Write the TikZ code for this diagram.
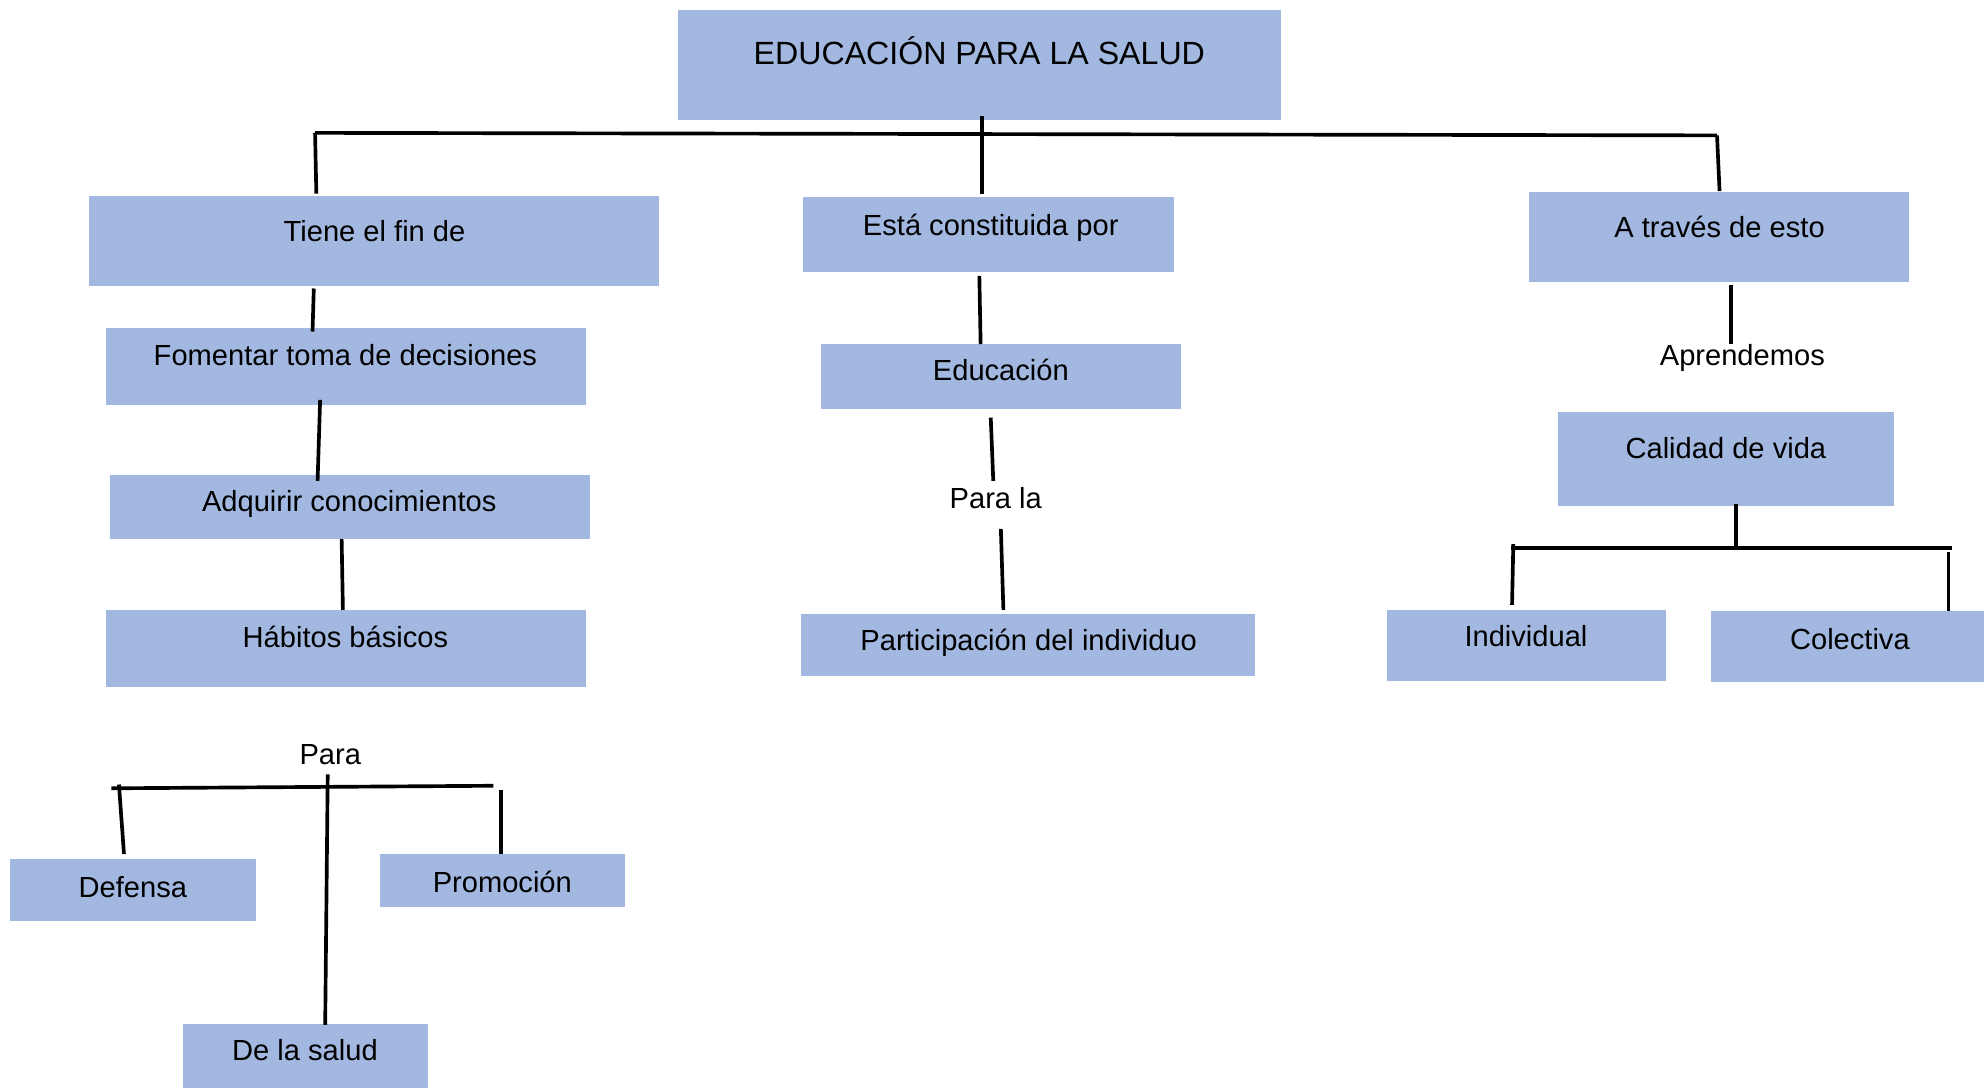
\documentclass[tikz,border=0pt]{standalone}
\usepackage{fontspec}
\setmainfont{Liberation Sans}
\definecolor{boxblue}{RGB}{162,184,224}
\begin{document}
\begin{tikzpicture}[x=1pt,y=-1pt,
  bx/.style={fill=boxblue,draw=none,inner sep=0pt,outer sep=0pt},
  txt/.style={font=\fontsize{23}{27}\selectfont,inner sep=0pt,outer sep=0pt,anchor=base,text height=17pt,text depth=5pt},
  ttl/.style={font=\fontsize{25.4}{29}\selectfont,inner sep=0pt,outer sep=0pt,anchor=base},
  ln/.style={draw=black,line width=2.9pt}]
\useasboundingbox (0,0) rectangle (1568,860);
% boxes
\node[bx,minimum width=476pt,minimum height=87pt] (title) at (774,51.5) {};
\node[bx,minimum width=451pt,minimum height=71pt] (tiene) at (295.5,190.5) {};
\node[bx,minimum width=293pt,minimum height=59pt] (esta) at (781.5,185.5) {};
\node[bx,minimum width=301pt,minimum height=71pt] (traves) at (1358.5,187.5) {};
\node[bx,minimum width=379pt,minimum height=61pt] (fom) at (273.5,289.5) {};
\node[bx,minimum width=379pt,minimum height=51pt] (adq) at (276.5,400.5) {};
\node[bx,minimum width=379pt,minimum height=61pt] (hab) at (273.5,512.5) {};
\node[bx,minimum width=284pt,minimum height=51pt] (edu) at (791,297.5) {};
\node[bx,minimum width=359pt,minimum height=49pt] (part) at (812.5,509.5) {};
\node[bx,minimum width=266pt,minimum height=74pt] (cal) at (1364,363) {};
\node[bx,minimum width=221pt,minimum height=56pt] (ind) at (1206.5,510) {};
\node[bx,minimum width=216pt,minimum height=56pt] (col) at (1460,511) {};
\node[bx,minimum width=194pt,minimum height=49pt] (def) at (105,703.5) {};
\node[bx,minimum width=194pt,minimum height=42pt] (pro) at (397,696) {};
\node[bx,minimum width=193pt,minimum height=51pt] (sal) at (241.5,834.5) {};
% texts
\node[ttl] (titleT) at (774,51) {EDUCACIÓN PARA LA SALUD};
\node[txt] (tieneT) at (296,191) {Tiene el fin de};
\node[txt] (estaT) at (783,186) {Está constituida por};
\node[txt] (travesT) at (1359,188) {A través de esto};
\node[txt] (fomT) at (273,289) {Fomentar toma de decisiones};
\node[txt] (adqT) at (276,404) {Adquirir conocimientos};
\node[txt] (habT) at (273,512) {Hábitos básicos};
\node[txt] (eduT) at (791,301) {Educación};
\node[txt] (partT) at (813,514) {Participación del individuo};
\node[txt] (calT) at (1364,362) {Calidad de vida};
\node[txt] (indT) at (1206,511) {Individual};
\node[txt] (colT) at (1462,513) {Colectiva};
\node[txt] (defT) at (105,709) {Defensa};
\node[txt] (proT) at (397,705) {Promoción};
\node[txt] (salT) at (241,838) {De la salud};
\node[txt] (aprT) at (1377,289) {Aprendemos};
\node[txt] (paralaT) at (787,402) {Para la};
\node[txt] (paraT) at (261,604) {Para};
% junction coordinates
\coordinate (hl) at (249,105);
\coordinate (hr) at (1357,107);
\coordinate (rj) at (1372,433);
\coordinate (rl) at (1194,433);
\coordinate (rr) at (1543,433);
\coordinate (pl) at (88,623);
\coordinate (pr) at (390,621);
% connectors
\draw[ln] ([xshift=2pt,yshift=3pt]title.south) -- ([xshift=-5.5pt,yshift=3pt]esta.north);
\draw[ln] (hl) -- (hr);
\draw[ln] (hl) -- ([xshift=-45.5pt,yshift=2pt]tiene.north);
\draw[ln] (hr) -- ([xshift=0.5pt,yshift=1pt]traves.north);
\draw[ln] ([xshift=-47.5pt,yshift=-2pt]tiene.south) -- ([xshift=-26.5pt,yshift=-3pt]fom.north);
\draw[ln] ([xshift=-20.5pt,yshift=4pt]fom.south) -- ([xshift=-25.5pt,yshift=-5pt]adq.north);
\draw[ln] ([xshift=-6.5pt]adq.south) -- ([xshift=-2.5pt]hab.north);
\draw[ln] ([xshift=-7.5pt,yshift=-3pt]esta.south) -- ([xshift=-16pt]edu.north);
\draw[ln] ([xshift=-8pt,yshift=-7pt]edu.south) -- ([xshift=-2pt,yshift=5pt]paralaT.north);
\draw[ln] ([xshift=4pt,yshift=-11pt]paralaT.south) -- ([xshift=-19.5pt,yshift=3pt]part.north);
\draw[ln] ([xshift=9.5pt,yshift=-2pt]traves.south) -- ([xshift=-9pt]aprT.north);
\draw[ln] ([xshift=8pt,yshift=2pt]cal.south) -- (rj);
\draw[ln] (rl) -- (rr);
\draw[ln] ([xshift=2pt,yshift=3pt]rl) -- ([xshift=-11.5pt,yshift=4pt]ind.north);
\draw[ln] ([xshift=-3pt,yshift=-3pt]rr) -- ([xshift=80pt]col.north);
\draw[ln] (pl) -- (pr);
\draw[ln] ([xshift=6pt,yshift=3pt]pl) -- ([xshift=-7pt,yshift=4pt]def.north);
\draw[ln] ([xshift=6pt,yshift=-3pt]pr) -- ([xshift=-1pt]pro.north);
\draw[ln] ([xshift=-2pt,yshift=-3pt]paraT.south) -- ([xshift=15.5pt,yshift=-1pt]sal.north);
\end{tikzpicture}
\end{document}
